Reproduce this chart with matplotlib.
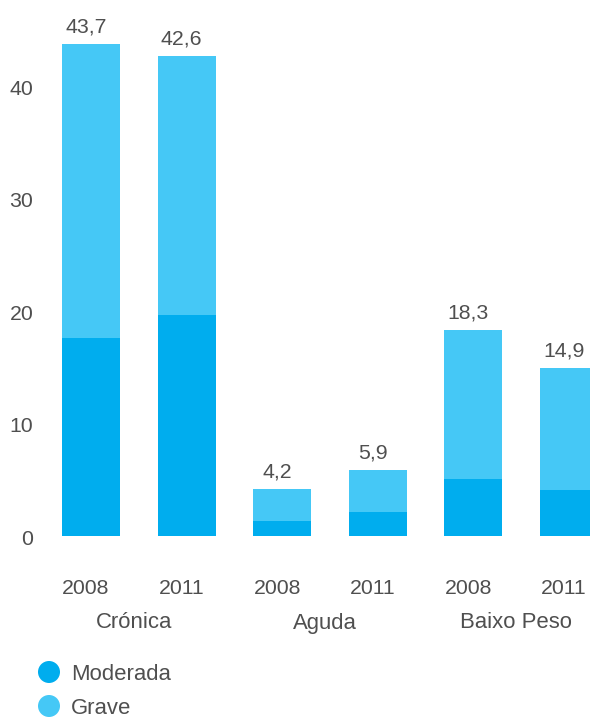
import matplotlib
matplotlib.use("Agg")
import matplotlib.pyplot as plt
from matplotlib.patches import Ellipse

plt.rcParams['font.family'] = ['Liberation Sans', 'DejaVu Sans']

# Data
groups = ["Crónica", "Aguda", "Baixo Peso"]
years = ["2008", "2011", "2008", "2011", "2008", "2011"]
totals = [43.7, 42.6, 4.2, 5.9, 18.3, 14.9]
moderada = [17.6, 19.6, 1.3, 2.1, 5.1, 4.1]
value_labels = ["43,7", "42,6", "4,2", "5,9", "18,3", "14,9"]
yticks = [0, 10, 20, 30, 40]
series_names = ["Moderada", "Grave"]

grave = [t - m for t, m in zip(totals, moderada)]

c_mod = "#00ADEE"
c_grave = "#45C8F6"
txt = "#4F4F4F"
fs_num = 15.3
fs_word = 15.9

W, H = 590, 720
fig = plt.figure(figsize=(W / 100, H / 100), dpi=100)

# axes geometry in pixels
step = 95.6
first_center = 91
left_px = first_center - 0.5 * step
bottom_px = 184
ax = fig.add_axes([left_px / W, bottom_px / H, (W - left_px) / W, (H - bottom_px) / H])
ax.set_xlim(-0.5, (W - first_center) / step)
ax.set_ylim(0, 47.6)
ax.axis("off")

x = list(range(len(totals)))
bw = 58 / step
ax.bar(x, moderada, width=bw, color=c_mod, linewidth=0)
ax.bar(x, grave, width=bw, bottom=moderada, color=c_grave, linewidth=0)

# value labels above bars
for xi, t, lab in zip(x, totals, value_labels):
    ax.annotate(lab, xy=(xi, t), xytext=(-5, 11.5), textcoords="offset pixels",
                ha="center", va="baseline", fontsize=fs_num, color=txt)

# y tick labels
ytr = ax.get_yaxis_transform()
for v in yticks:
    ax.annotate(str(v), xy=(0, v), xycoords=ytr, xytext=(-10, -3.5),
                textcoords="offset pixels", ha="right", va="center",
                fontsize=fs_num, color=txt, annotation_clip=False)

# year labels and group labels
xtr = ax.get_xaxis_transform()
for xi, yr in zip(x, years):
    ax.annotate(yr, xy=(xi, 0), xycoords=xtr, xytext=(-5, -53),
                textcoords="offset pixels", ha="center", va="center",
                fontsize=fs_num, color=txt, annotation_clip=False)
for gi, g in enumerate(groups):
    gx = 2 * gi + 0.5
    ax.annotate(g, xy=(gx, 0), xycoords=xtr, xytext=(-5, -87),
                textcoords="offset pixels", ha="center", va="center",
                fontsize=fs_word, color=txt, annotation_clip=False)

# legend
for name, col, cy in zip(series_names, [c_mod, c_grave], [672, 706]):
    fig.add_artist(Ellipse((49 / W, 1 - cy / H), 22 / W, 22 / H,
                           transform=fig.transFigure, color=col, linewidth=0))
    fig.text(71 / W, 1 - (cy + 3) / H, name, ha="left", va="center",
             fontsize=fs_word, color=txt)

fig.savefig("out.png", dpi=100)
